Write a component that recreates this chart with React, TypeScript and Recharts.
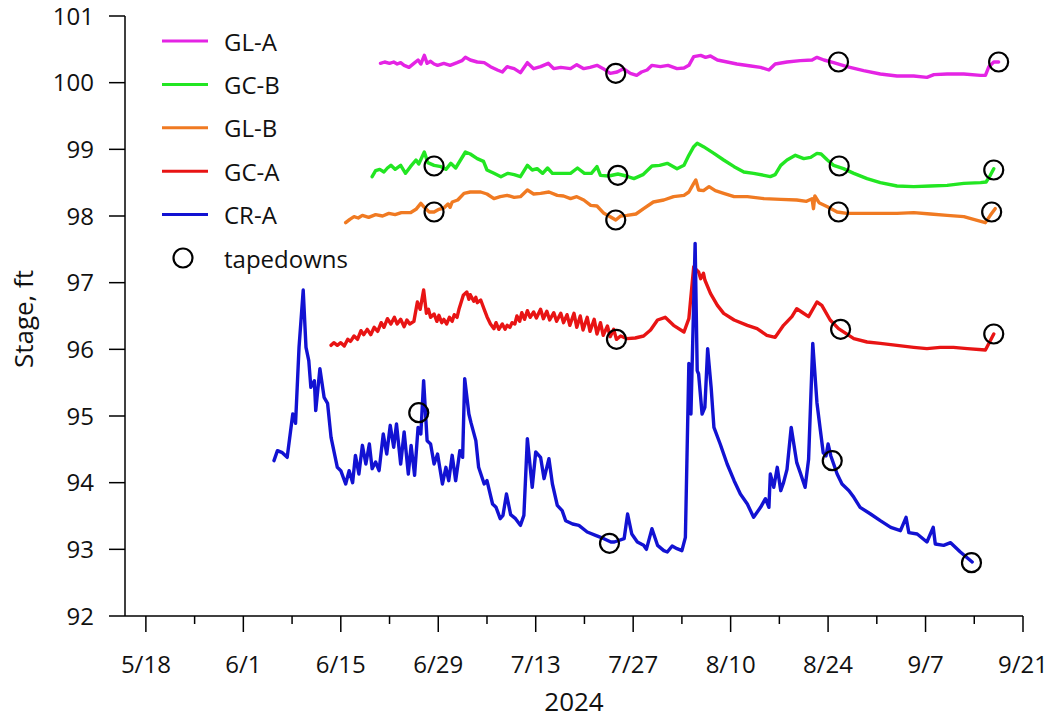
import React from 'react';
import { ComposedChart, Line, Scatter, XAxis, YAxis, Legend } from 'recharts';

// x values are days since 2024-05-15 (day 0)
const majorTickDays = [3, 17, 31, 45, 59, 73, 87, 101, 115, 129];
const minorTickDays = [10, 24, 38, 52, 66, 80, 94, 108, 122];
const stageTicks = [92, 93, 94, 95, 96, 97, 98, 99, 100, 101];

const GL_A: [number, number][] = [[36.7,100.29],[37.3,100.31],[38.0,100.29],[38.6,100.31],[39.1,100.28],[39.6,100.3],[40.1,100.26],[40.8,100.23],[41.5,100.29],[42.1,100.34],[42.5,100.28],[43.0,100.41],[43.4,100.29],[43.9,100.32],[44.4,100.28],[44.9,100.26],[45.8,100.29],[46.7,100.26],[47.7,100.3],[48.4,100.33],[48.9,100.38],[49.6,100.34],[50.6,100.31],[51.6,100.3],[52.5,100.24],[53.5,100.19],[54.2,100.16],[54.9,100.24],[55.9,100.21],[56.8,100.15],[57.8,100.3],[58.7,100.21],[59.7,100.24],[60.8,100.29],[61.6,100.21],[62.6,100.23],[64.0,100.21],[64.9,100.27],[65.9,100.21],[66.8,100.23],[67.8,100.26],[68.7,100.21],[69.7,100.14],[70.7,100.16],[71.6,100.21],[72.6,100.14],[73.5,100.11],[74.2,100.16],[75.0,100.19],[75.7,100.26],[76.9,100.24],[78.0,100.26],[79.3,100.21],[80.3,100.22],[81.0,100.26],[81.7,100.39],[82.7,100.41],[83.4,100.38],[84.1,100.4],[85.1,100.34],[86.5,100.31],[87.9,100.28],[89.9,100.25],[91.3,100.23],[92.5,100.19],[93.4,100.28],[95.1,100.31],[97.0,100.33],[98.7,100.34],[99.4,100.38],[100.4,100.34],[101.8,100.3],[103.7,100.24],[106.1,100.18],[108.5,100.13],[110.9,100.1],[113.3,100.1],[115.2,100.08],[116.2,100.12],[118.1,100.13],[120.5,100.13],[122.9,100.11],[123.6,100.11],[124.1,100.24],[124.8,100.31],[125.5,100.31]];

const GC_B: [number, number][] = [[35.5,98.59],[36.0,98.68],[36.6,98.7],[37.2,98.66],[37.7,98.72],[38.2,98.76],[38.8,98.7],[39.6,98.76],[40.3,98.64],[41.0,98.74],[41.8,98.84],[42.2,98.78],[43.0,98.96],[43.5,98.8],[44.4,98.76],[45.4,98.74],[46.1,98.7],[46.8,98.79],[47.5,98.72],[48.2,98.84],[48.9,98.96],[49.6,98.93],[50.6,98.86],[51.5,98.82],[52.0,98.69],[53.0,98.64],[54.0,98.59],[55.0,98.64],[55.9,98.62],[56.8,98.59],[57.8,98.76],[58.5,98.69],[59.2,98.71],[60.0,98.64],[60.7,98.72],[61.4,98.64],[62.6,98.64],[64.0,98.64],[65.0,98.72],[66.0,98.64],[67.0,98.64],[67.8,98.74],[68.3,98.61],[69.5,98.6],[70.8,98.63],[72.0,98.6],[73.1,98.56],[74.4,98.62],[75.7,98.75],[76.8,98.76],[77.9,98.79],[79.3,98.71],[80.3,98.76],[81.0,98.91],[81.7,99.04],[82.2,99.09],[83.1,99.04],[84.6,98.94],[86.0,98.84],[87.5,98.74],[88.9,98.66],[90.3,98.64],[91.8,98.61],[92.7,98.59],[93.4,98.62],[94.2,98.76],[95.1,98.84],[96.3,98.91],[97.5,98.86],[98.5,98.88],[99.4,98.94],[100.0,98.93],[100.9,98.84],[101.8,98.76],[103.2,98.71],[104.7,98.64],[106.6,98.56],[108.5,98.5],[110.9,98.45],[113.3,98.44],[115.7,98.45],[118.1,98.46],[120.5,98.49],[122.9,98.5],[123.7,98.51],[124.3,98.61],[124.8,98.71]];

const GL_B: [number, number][] = [[31.7,97.9],[32.3,97.95],[32.9,97.99],[33.5,97.97],[34.1,98.01],[35.0,97.98],[36.0,98.02],[37.0,98.0],[37.9,98.04],[38.8,98.02],[39.7,98.05],[41.0,98.05],[41.8,98.1],[42.5,98.19],[43.0,98.13],[43.7,98.06],[44.4,98.06],[45.1,98.1],[45.8,98.12],[46.4,98.18],[46.7,98.13],[47.0,98.21],[47.8,98.24],[48.7,98.34],[49.6,98.36],[51.1,98.36],[52.0,98.33],[53.0,98.26],[53.9,98.29],[54.9,98.31],[55.9,98.28],[56.8,98.29],[57.8,98.39],[58.7,98.33],[59.7,98.34],[60.9,98.36],[62.1,98.31],[63.0,98.3],[64.0,98.26],[64.9,98.29],[65.9,98.24],[66.9,98.16],[67.8,98.15],[68.8,98.04],[69.7,97.99],[70.5,97.94],[71.2,98.0],[72.1,98.01],[73.4,98.03],[74.5,98.11],[75.9,98.21],[77.4,98.24],[78.8,98.29],[80.3,98.31],[81.0,98.36],[81.7,98.49],[82.0,98.54],[82.4,98.39],[83.1,98.38],[83.9,98.44],[84.8,98.38],[86.0,98.34],[87.5,98.29],[89.4,98.29],[91.8,98.26],[94.2,98.25],[96.5,98.24],[97.9,98.22],[98.7,98.26],[98.9,98.11],[99.1,98.3],[99.7,98.2],[100.9,98.14],[102.3,98.06],[103.7,98.04],[106.1,98.04],[108.5,98.04],[110.9,98.04],[113.3,98.05],[115.7,98.03],[118.1,98.01],[120.5,97.99],[121.9,97.95],[123.6,97.9],[124.3,98.01],[125.0,98.11]];

const GC_A: [number, number][] = [[29.6,96.06],[30.0,96.1],[30.5,96.06],[31.0,96.1],[31.5,96.05],[32.0,96.15],[32.4,96.12],[32.9,96.2],[33.4,96.15],[33.9,96.28],[34.3,96.22],[34.8,96.3],[35.3,96.22],[35.8,96.33],[36.3,96.27],[36.8,96.4],[37.2,96.33],[37.7,96.46],[38.2,96.38],[38.7,96.48],[39.1,96.38],[39.6,96.45],[40.1,96.34],[40.5,96.44],[40.9,96.38],[41.5,96.42],[42.0,96.71],[42.4,96.6],[42.9,96.89],[43.3,96.54],[43.6,96.6],[43.9,96.48],[44.4,96.53],[44.8,96.42],[45.1,96.51],[45.5,96.4],[45.8,96.45],[46.2,96.38],[46.6,96.48],[47.0,96.42],[47.3,96.52],[47.7,96.48],[48.0,96.61],[48.6,96.81],[49.1,96.86],[49.4,96.75],[49.6,96.82],[50.1,96.72],[50.4,96.78],[50.6,96.7],[51.1,96.74],[51.6,96.6],[52.0,96.49],[52.5,96.38],[53.0,96.31],[53.3,96.4],[53.7,96.3],[54.2,96.38],[54.6,96.3],[54.9,96.36],[55.3,96.33],[55.6,96.4],[56.0,96.38],[56.3,96.5],[56.7,96.42],[57.0,96.55],[57.4,96.45],[57.8,96.58],[58.2,96.48],[58.7,96.56],[59.1,96.47],[59.7,96.6],[60.1,96.46],[60.6,96.57],[61.0,96.44],[61.6,96.55],[62.0,96.42],[62.6,96.54],[63.0,96.4],[63.5,96.52],[63.9,96.36],[64.5,96.54],[64.9,96.33],[65.4,96.5],[65.8,96.29],[66.4,96.48],[66.8,96.27],[67.4,96.45],[67.8,96.23],[68.3,96.4],[68.7,96.21],[69.3,96.35],[69.7,96.19],[70.2,96.3],[70.6,96.15],[71.2,96.2],[72.1,96.16],[73.3,96.17],[74.5,96.2],[75.5,96.29],[76.5,96.44],[77.6,96.48],[78.8,96.36],[80.3,96.26],[81.0,96.46],[81.7,97.24],[82.0,97.2],[82.4,97.16],[82.7,97.06],[83.1,97.14],[83.3,97.04],[84.1,96.84],[85.1,96.66],[86.0,96.54],[87.5,96.44],[89.4,96.36],[90.8,96.31],[92.2,96.21],[93.4,96.18],[94.6,96.36],[95.8,96.49],[96.5,96.61],[97.2,96.56],[98.2,96.49],[99.4,96.71],[100.1,96.66],[101.3,96.44],[102.5,96.31],[104.7,96.16],[106.6,96.11],[108.5,96.09],[110.9,96.06],[113.3,96.03],[115.2,96.01],[117.1,96.03],[119.0,96.03],[121.0,96.01],[123.6,95.99],[124.0,96.07],[124.8,96.23]];

const CR_A: [number, number][] = [[21.4,94.33],[21.9,94.48],[22.6,94.45],[23.3,94.38],[24.1,95.03],[24.5,94.89],[25.0,96.03],[25.6,96.89],[26.0,96.03],[26.4,95.83],[26.7,95.43],[27.2,95.53],[27.4,95.08],[28.0,95.71],[28.6,95.28],[29.1,95.19],[29.6,94.68],[30.5,94.23],[31.0,94.18],[31.7,93.98],[32.2,94.18],[32.7,94.0],[33.1,94.41],[33.6,94.13],[34.1,94.56],[34.6,94.28],[35.1,94.58],[35.5,94.21],[36.0,94.31],[36.5,94.18],[37.1,94.73],[37.6,94.43],[38.1,94.86],[38.6,94.53],[39.0,94.88],[39.6,94.28],[40.1,94.76],[40.7,94.13],[41.1,94.56],[41.6,94.11],[42.1,94.83],[42.5,94.73],[42.9,95.53],[43.4,94.63],[43.9,94.58],[44.4,94.28],[44.9,94.43],[45.6,93.98],[46.1,94.23],[46.5,94.03],[47.0,94.41],[47.5,94.03],[48.1,94.48],[48.5,94.38],[48.8,95.56],[49.4,95.03],[49.7,94.9],[50.4,94.63],[50.8,94.23],[51.6,93.98],[52.0,94.03],[52.8,93.68],[53.3,93.63],[53.9,93.46],[54.3,93.51],[54.8,93.83],[55.4,93.52],[56.1,93.46],[56.8,93.36],[57.3,93.51],[57.8,94.66],[58.5,93.93],[59.0,94.46],[59.7,94.38],[60.2,94.06],[60.9,94.36],[61.4,93.98],[62.1,93.66],[62.8,93.58],[63.3,93.43],[64.3,93.38],[65.2,93.36],[66.4,93.26],[67.6,93.21],[68.8,93.16],[69.8,93.11],[70.3,93.11],[71.7,93.16],[72.2,93.53],[72.8,93.23],[73.6,93.11],[74.5,93.06],[74.9,93.0],[75.7,93.31],[76.5,93.06],[77.4,92.98],[77.9,92.96],[78.6,93.05],[79.3,93.01],[80.0,92.98],[80.5,93.18],[81.0,95.79],[81.3,95.03],[81.9,97.59],[82.2,95.68],[82.4,95.63],[82.9,95.03],[83.3,95.13],[83.7,96.01],[84.2,95.43],[84.6,94.83],[85.5,94.58],[86.5,94.28],[87.5,94.03],[88.4,93.83],[89.4,93.68],[90.3,93.48],[91.3,93.63],[92.0,93.76],[92.5,93.63],[92.7,94.13],[93.2,93.93],[93.7,94.23],[94.2,93.88],[94.6,94.0],[95.1,94.2],[95.7,94.83],[96.5,94.3],[97.0,94.15],[97.7,93.93],[98.2,94.35],[98.8,96.09],[99.4,95.2],[99.9,94.78],[100.3,94.45],[100.7,94.4],[101.0,94.58],[101.4,94.4],[102.3,94.13],[103.0,93.98],[104.0,93.88],[104.7,93.78],[105.6,93.63],[107.1,93.53],[108.5,93.43],[110.0,93.33],[111.4,93.28],[112.2,93.48],[112.6,93.25],[113.8,93.23],[115.2,93.11],[116.1,93.33],[116.4,93.08],[117.6,93.06],[118.6,93.1],[120.0,92.96],[121.7,92.81]];

const tapedownsGL_A: [number, number][] = [[70.5,100.14],[102.5,100.31],[125.5,100.31]];
const tapedownsGC_B: [number, number][] = [[44.4,98.75],[70.8,98.61],[102.6,98.75],[124.8,98.69]];
const tapedownsGL_B: [number, number][] = [[44.4,98.06],[70.5,97.94],[102.5,98.06],[124.5,98.06]];
const tapedownsGC_A: [number, number][] = [[70.6,96.15],[102.8,96.3],[124.8,96.23]];
const tapedownsCR_A: [number, number][] = [[42.2,95.05],[69.6,93.09],[101.6,94.33],[121.6,92.8]];

const toRows = (pts: [number, number][]) => pts.map(([d, v]) => ({ d, v }));

const series = [
  { name: 'GL-A', color: '#E424E4', pts: GL_A },
  { name: 'GC-B', color: '#22E622', pts: GC_B },
  { name: 'GL-B', color: '#F07A22', pts: GL_B },
  { name: 'GC-A', color: '#E81414', pts: GC_A },
  { name: 'CR-A', color: '#1212D2', pts: CR_A },
];

const tapedownRows = toRows([
  ...tapedownsGL_A, ...tapedownsGC_B, ...tapedownsGL_B, ...tapedownsGC_A, ...tapedownsCR_A,
]);

const FONT = '"Open Sans", "Noto Sans", sans-serif';
const allTicks = [...majorTickDays, ...minorTickDays].sort((a, b) => a - b);

const fmtDay = (d: number) => {
  const dt = new Date(2024, 4, 15 + d);
  return `${dt.getMonth() + 1}/${dt.getDate()}`;
};

const XTick = (props: any) => {
  const { x, y, payload } = props;
  const major = majorTickDays.includes(payload.value);
  return (
    <g>
      <line x1={x} x2={x} y1={y} y2={y + (major ? 16 : 8)} stroke="#000" strokeWidth={1.5} />
      {major && (
        <text x={x} y={y + 57} textAnchor="middle" fontSize={24} fill="#111" fontFamily={FONT}>
          {fmtDay(payload.value)}
        </text>
      )}
    </g>
  );
};

const YLabel = (props: any) => {
  const vb = props.viewBox || { x: 65, y: 16, width: 60, height: 600 };
  const cx = 23;
  const cy = vb.y + vb.height / 2 + 3;
  return (
    <text x={cx} y={cy} transform={`rotate(-90 ${cx} ${cy})`} textAnchor="middle" dominantBaseline="central" fontSize={26} fill="#111" fontFamily={FONT}>
      Stage, ft
    </text>
  );
};

const TapeCircle = (props: any) => (
  <circle cx={props.cx} cy={props.cy} r={9.5} fill="none" stroke="#000" strokeWidth={2.2} />
);

const LegendBox = () => {
  const step = 43.4;
  return (
    <svg width={240} height={260} style={{ overflow: 'visible' }}>
      {series.map((s, i) => (
        <g key={s.name}>
          <line x1={12} x2={58} y1={21 + i * step} y2={21 + i * step} stroke={s.color} strokeWidth={3} />
          <text x={74} y={21 + i * step} dominantBaseline="central" fontSize={24} fill="#111" fontFamily={FONT}>
            {s.name}
          </text>
        </g>
      ))}
      <circle cx={33} cy={21 + 5 * step} r={9.5} fill="none" stroke="#000" strokeWidth={2.2} />
      <text x={74} y={21 + 5 * step} dominantBaseline="central" fontSize={24} fill="#111" fontFamily={FONT}>
        tapedowns
      </text>
    </svg>
  );
};

export default function App() {
  return (
    <div style={{ position: 'absolute', left: 0, top: 0, width: 1054, height: 721, background: '#fff' }}>
      <ComposedChart
        width={1054}
        height={721}
        margin={{ top: 16, right: 31, left: 65, bottom: 45 }}
        style={{ fontFamily: FONT }}
      >
        <XAxis
          type="number"
          dataKey="d"
          domain={[0, 129]}
          ticks={allTicks}
          interval={0}
          tickSize={0}
          tickMargin={0}
          tickLine={false}
          tick={<XTick />}
          height={60}
          axisLine={{ stroke: '#000', strokeWidth: 1.5 }}
          allowDuplicatedCategory={false}
          label={{ value: '2024', position: 'bottom', offset: 17, fontSize: 26, fill: '#111', fontFamily: FONT }}
        />
        <YAxis
          type="number"
          domain={[92, 101]}
          ticks={stageTicks}
          interval={0}
          width={60}
          tickSize={16}
          tickMargin={15}
          tickLine={{ stroke: '#000', strokeWidth: 1.5 }}
          axisLine={{ stroke: '#000', strokeWidth: 1.5 }}
          tick={{ fontSize: 24, fill: '#111', fontFamily: FONT }}
          label={<YLabel />}
        />
        <Legend
          layout="vertical"
          align="center"
          verticalAlign="middle"
          content={<LegendBox />}
          wrapperStyle={{ left: 150, top: 20, width: 240, height: 260 }}
        />
        {series.map((s) => (
          <Line
            key={s.name}
            data={toRows(s.pts)}
            dataKey="v"
            name={s.name}
            type="linear"
            stroke={s.color}
            strokeWidth={3.4}
            strokeLinejoin="round"
            strokeLinecap="round"
            dot={false}
            activeDot={false}
            isAnimationActive={false}
          />
        ))}
        <Scatter
          data={tapedownRows}
          dataKey="v"
          name="tapedowns"
          shape={<TapeCircle />}
          isAnimationActive={false}
        />
      </ComposedChart>
    </div>
  );
}
